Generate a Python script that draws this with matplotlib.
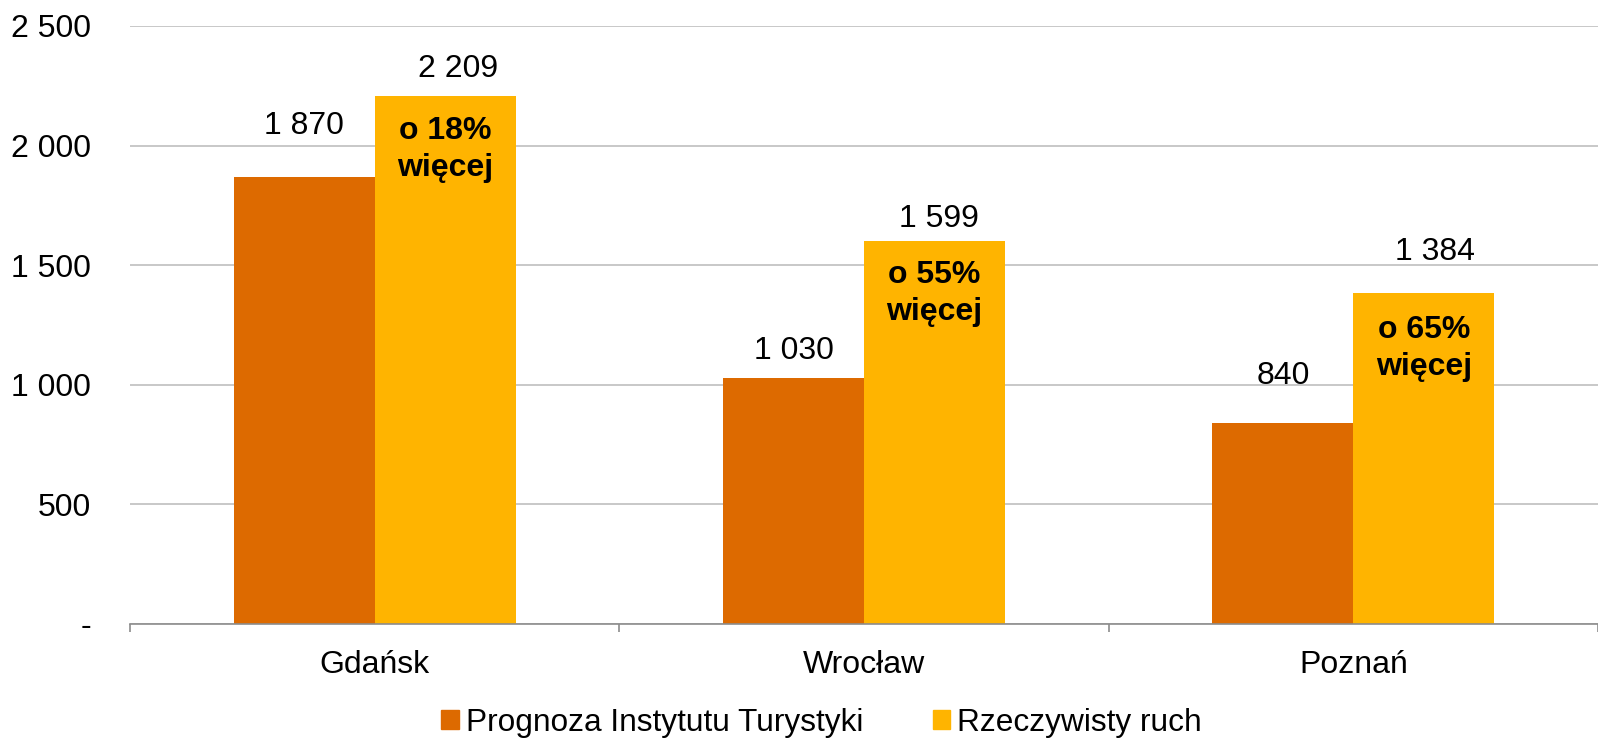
import matplotlib.pyplot as plt
import numpy as np
from matplotlib.patches import Patch

plt.rcParams['font.family'] = ['Liberation Sans', 'DejaVu Sans']

# data
cities = ['Gdańsk', 'Wrocław', 'Poznań']
forecast = [1870, 1030, 840]
actual = [2209, 1599, 1384]
forecast_labels = ['1 870', '1 030', '840']
actual_labels = ['2 209', '1 599', '1 384']
notes = ['o 18%\nwięcej', 'o 55%\nwięcej', 'o 65%\nwięcej']
yticks = [0, 500, 1000, 1500, 2000, 2500]
ytick_labels = ['-', '500', '1 000', '1 500', '2 000', '2 500']
series_names = ['Prognoza Instytutu Turystyki', 'Rzeczywisty ruch']

# label placement (pixels from bar top), as in the original
forecast_off = [51, 27, 47]
actual_off = [(13, 27), (4, 22), (11, 41)]
note_off = [-54, -52, -56]

c_orange = '#DD6A00'
c_yellow = '#FFB400'
fs = 23

fig = plt.figure(figsize=(15.98, 7.38), dpi=100)
ax = fig.add_axes([0.0814, 0.1545, 0.9186, 0.8103])

x = np.arange(len(cities))
w = 0.288
ax.bar(x - w / 2, forecast, w, color=c_orange, zorder=2)
ax.bar(x + w / 2, actual, w, color=c_yellow, zorder=2)

for i in range(len(cities)):
    ax.annotate(forecast_labels[i], (x[i] - w / 2, forecast[i]),
                xytext=(0, forecast_off[i]), textcoords='offset pixels',
                ha='center', va='center', fontsize=fs)
    ax.annotate(actual_labels[i], (x[i] + w / 2, actual[i]),
                xytext=actual_off[i], textcoords='offset pixels',
                ha='center', va='center', fontsize=fs)
    ax.annotate(notes[i], (x[i] + w / 2, actual[i]),
                xytext=(0, note_off[i]), textcoords='offset pixels',
                ha='center', va='center', fontsize=fs, fontweight='bold',
                linespacing=1.3)

ax.set_xlim(-0.5, 2.5)
ax.set_ylim(0, 2500)
ax.set_yticks(yticks)
ax.set_yticklabels(ytick_labels, fontsize=fs)
ax.tick_params(axis='y', length=0, pad=28)
ax.grid(axis='y', color='#BFBFBF', linewidth=1.2, zorder=0)

# category boundaries get the tick marks, names sit in between
ax.set_xticks([-0.5, 0.5, 1.5, 2.5])
ax.set_xticklabels([])
ax.tick_params(axis='x', which='major', length=6, width=1.2, color='#8C8C8C', direction='out')
ax.set_xticks(x, minor=True)
ax.set_xticklabels(cities, minor=True, fontsize=fs)
ax.tick_params(axis='x', which='minor', length=0, pad=18.5)

for s in ['top', 'right', 'left']:
    ax.spines[s].set_visible(False)
ax.spines['bottom'].set_color('#8C8C8C')
ax.spines['bottom'].set_linewidth(1.2)
ax.spines['bottom'].set_zorder(3)

handles = [Patch(color=c_orange), Patch(color=c_yellow)]
fig.legend(handles, series_names, loc='lower center', ncol=2, frameon=False,
           fontsize=22.8, handlelength=0.54, handleheight=0.54, handletextpad=0.22,
           columnspacing=2.2, borderaxespad=0, borderpad=0,
           bbox_to_anchor=(0.514, 0.0))

plt.savefig('out.png', dpi=100)
